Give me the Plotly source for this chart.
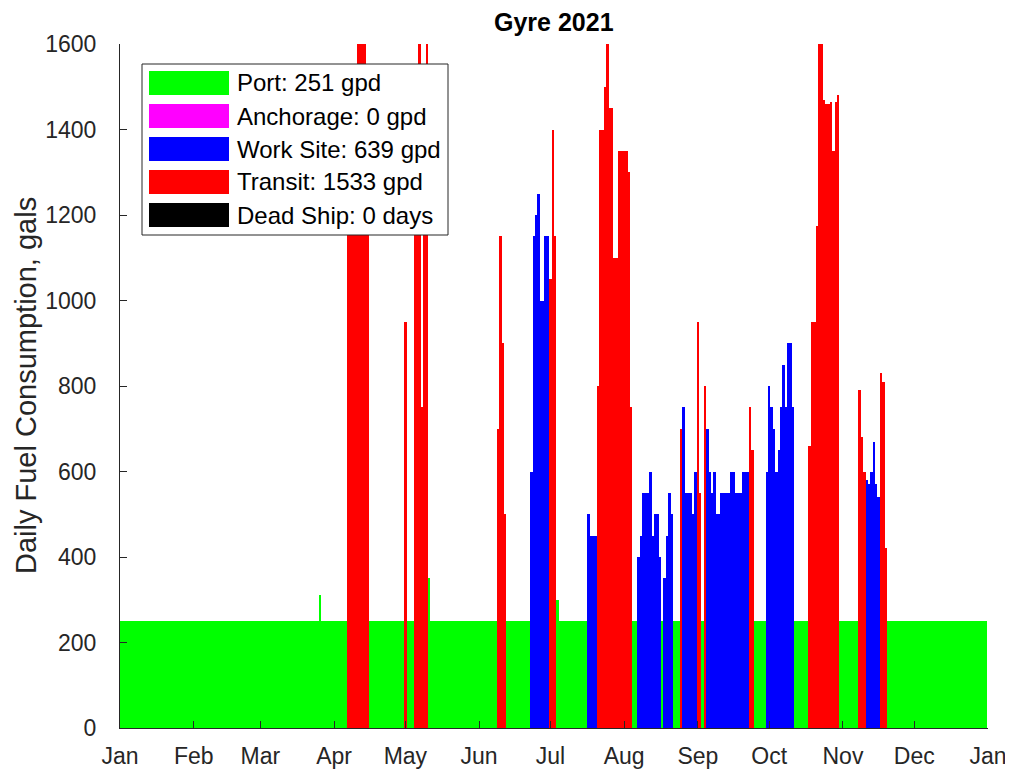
import pandas as pd
import plotly.graph_objects as go

# ---------------- data (day index 0 = 2021-01-01) ----------------
YEAR_START = "2021-01-01"
N_DAYS = 365
PORT_LEVEL = 251                       # daily port consumption
port_spike_days = [84, 130, 184]
port_spike_values = [310, 350, 300]

transit_days = [96, 97, 98, 99, 100, 101, 102, 103, 104,
                120,
                124, 125, 126, 127, 128, 129,
                159, 160, 161, 162,
                181, 182, 183,
                201, 202, 203, 204, 205, 206, 207, 208, 209, 210, 211, 212, 213, 214, 215,
                236, 243, 244, 246, 265, 266,
                290, 291, 292, 293, 294, 295, 296, 297, 298, 299, 300, 301, 302,
                311, 312, 313, 320, 321, 322]
transit_values = [1500, 1500, 1500, 1500, 4000, 4000, 4000, 4000, 1500,
                  950,
                  1500, 1500, 4000, 750, 1500, 4000,
                  700, 1150, 900, 500,
                  1050, 1400, 1150,
                  800, 1400, 1400, 1500, 4000, 1450, 1450, 1100, 1100, 1350, 1350, 1350, 1350, 1300, 750,
                  700, 950, 550, 800, 750, 650,
                  660, 950, 950, 1175, 4000, 4000, 1470, 1460, 1460, 1465, 1350, 1465, 1480,
                  790, 680, 600, 830, 810, 420]

worksite_days = [173, 174, 175, 176, 177, 178, 179, 180,
                 197, 198, 199, 200,
                 218, 219, 220, 221, 222, 223, 224, 225, 226, 227,
                 229, 230, 231, 232,
                 237, 238, 239, 240, 241, 242,
                 247, 248, 249, 250, 251, 252, 253, 254, 255, 256, 257, 258, 259, 260, 261, 262, 263, 264,
                 272, 273, 274, 275, 276, 277, 278, 279, 280, 281, 282, 283,
                 314, 315, 316, 317, 318, 319]
worksite_values = [600, 1150, 1200, 1250, 1000, 1000, 1150, 1150,
                   500, 450, 450, 450,
                   400, 450, 550, 550, 550, 600, 450, 500, 500, 400,
                   350, 450, 550, 500,
                   750, 550, 550, 550, 500, 600,
                   700, 600, 550, 600, 500, 500, 550, 550, 550, 550, 600, 600, 550, 550, 550, 600, 600, 600,
                   600, 800, 750, 700, 600, 650, 750, 850, 750, 900, 900, 750,
                   580, 570, 600, 670, 570, 540]

anchorage_days, anchorage_values = [], []
dead_ship_days = []

legend_labels = ["Port: 251 gpd", "Anchorage: 0 gpd", "Work Site: 639 gpd",
                 "Transit: 1533 gpd", "Dead Ship: 0 days"]
month_labels = ["Jan", "Feb", "Mar", "Apr", "May", "Jun", "Jul",
                "Aug", "Sep", "Oct", "Nov", "Dec", "Jan"]
y_ticks = [0, 200, 400, 600, 800, 1000, 1200, 1400, 1600]

# ---------------- styling ----------------
COLORS = {"Port": "#00ff00", "Anchorage": "#ff00ff", "Work Site": "#0000ff",
          "Transit": "#ff0000", "Dead Ship": "#000000"}
FONT = "Liberation Sans, Arial, Helvetica, sans-serif"
AX = "#262626"
OFF = 8                                 # page body margin in the browser
W, H = 1013 - OFF, 774 - OFF
L, R, T, B = 120 - OFF, 988 - OFF, 44 - OFF, 728 - OFF   # plot area (figure px)

start = pd.Timestamp(YEAR_START)
def to_dates(days):
    return [start + pd.Timedelta(days=int(d)) for d in days]

busy = set(transit_days) | set(worksite_days) | set(anchorage_days) | set(dead_ship_days)
port_days = [d for d in range(N_DAYS) if d not in busy]
spike = dict(zip(port_spike_days, port_spike_values))
port_values = [spike.get(d, PORT_LEVEL) for d in port_days]

DAY_MS = 86400000
fig = go.Figure()
for name, days, vals in [("Port", port_days, port_values),
                         ("Anchorage", anchorage_days, anchorage_values),
                         ("Work Site", worksite_days, worksite_values),
                         ("Transit", transit_days, transit_values)]:
    fig.add_trace(go.Bar(x=to_dates(days), y=vals, width=[DAY_MS] * len(days),
                         name=name, marker_color=COLORS[name],
                         marker_line_width=0, showlegend=False))

month_starts = pd.date_range("2021-01-01", "2022-01-01", freq="MS")

fig.update_layout(
    width=W, height=H, autosize=False,
    margin=dict(l=L, r=W - R, t=T, b=H - B, pad=0, autoexpand=False),
    paper_bgcolor="white", plot_bgcolor="white",
    barmode="overlay", bargap=0,
    font=dict(family=FONT, color=AX),
    showlegend=False,
)
fig.update_xaxes(type="date", range=[month_starts[0], month_starts[-1]],
                 tickvals=list(month_starts), ticktext=month_labels,
                 ticks="inside", ticklen=7, tickcolor=AX, showline=True,
                 linecolor=AX, linewidth=1, showgrid=False, zeroline=False,
                 automargin=False,
                 tickfont=dict(size=23, color=AX), ticklabelstandoff=7)
fig.update_yaxes(range=[0, 1600], tickvals=y_ticks,
                 ticks="inside", ticklen=7, tickcolor=AX, showline=True,
                 linecolor=AX, linewidth=1, showgrid=False, zeroline=False,
                 automargin=False,
                 tickfont=dict(size=23, color=AX), ticklabelstandoff=18)

def px(x):          # reference screen pixel -> paper x
    return (x - OFF - L) / (R - L)
def py(y):          # reference screen pixel -> paper y
    return (B - (y - OFF)) / (B - T)

# title
fig.add_annotation(text="<b>Gyre 2021</b>", xref="paper", yref="paper",
                   x=0.5, y=py(22), xanchor="center", yanchor="middle",
                   showarrow=False, font=dict(size=25, color="black", family=FONT))

# y-axis title
fig.add_annotation(text="Daily Fuel Consumption, gals", xref="paper", yref="paper",
                   x=px(26), y=py(386), textangle=-90, showarrow=False,
                   xanchor="center", yanchor="middle",
                   font=dict(size=29, color=AX, family=FONT))

# legend box drawn manually (MATLAB style wide swatches)
fig.add_shape(type="rect", xref="paper", yref="paper",
              x0=px(142), x1=px(448), y0=py(235), y1=py(64),
              fillcolor="white", line=dict(color=AX, width=1), layer="above")
row_tops = [71, 104, 137, 170, 203]
leg_colors = [COLORS["Port"], COLORS["Anchorage"], COLORS["Work Site"],
              COLORS["Transit"], COLORS["Dead Ship"]]
for top, col, lab in zip(row_tops, leg_colors, legend_labels):
    fig.add_shape(type="rect", xref="paper", yref="paper",
                  x0=px(149), x1=px(229), y0=py(top + 24), y1=py(top),
                  fillcolor=col, line=dict(width=0), layer="above")
    fig.add_annotation(text=lab, xref="paper", yref="paper",
                       x=px(235), y=py(top + 12), xanchor="left", yanchor="middle",
                       showarrow=False, font=dict(size=24, color="black", family=FONT))

fig.write_html("out.html")
